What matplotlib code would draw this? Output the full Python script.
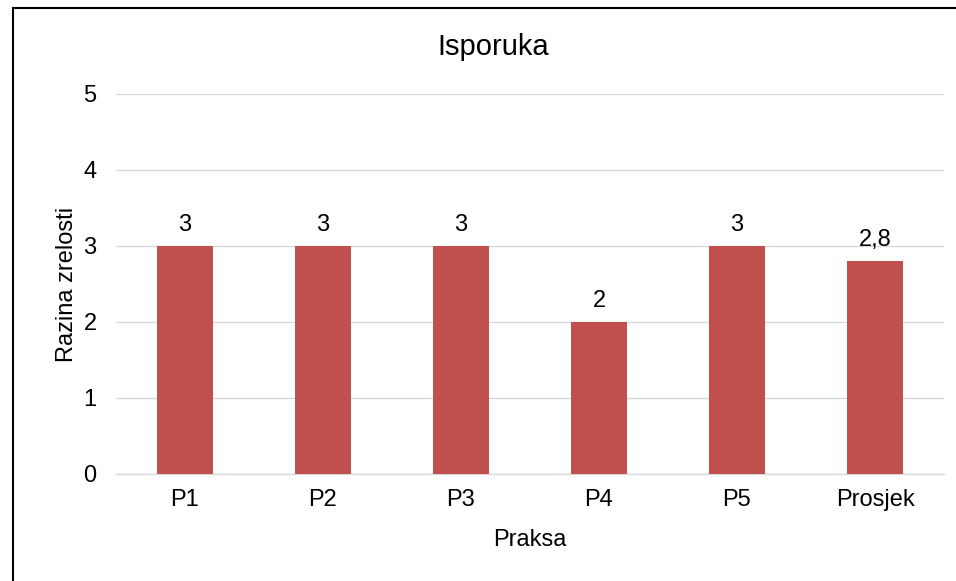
import matplotlib.pyplot as plt
from matplotlib.lines import Line2D

plt.rcParams['font.family'] = ['Liberation Sans', 'DejaVu Sans']

categories = ['P1', 'P2', 'P3', 'P4', 'P5', 'Prosjek']
values = [3, 3, 3, 2, 3, 2.8]
value_labels = ['3', '3', '3', '2', '3', '2,8']

W, H = 956, 581
fig = plt.figure(figsize=(W / 100, H / 100), dpi=100)
ax = fig.add_axes([116 / W, 1 - 474 / H, (944 - 116) / W, (474 - 94) / H])

x = range(len(categories))
bars = ax.bar(x, values, width=0.4, color='#C0504D', zorder=3)

for b, lab in zip(bars, value_labels):
    ax.annotate(lab, (b.get_x() + b.get_width() / 2, b.get_height()),
                xytext=(0, 7), textcoords='offset points',
                ha='center', va='bottom', fontsize=17)

ax.set_xlim(-0.5, len(categories) - 0.5)
ax.set_ylim(0, 5)
ax.set_xticks(list(x))
ax.set_xticklabels(categories, fontsize=17)
ax.set_yticks(range(6))
ax.tick_params(axis='y', labelsize=17, length=0, pad=14)
ax.tick_params(axis='x', length=0, pad=11)
ax.yaxis.grid(True, color='#D9D9D9', linewidth=1, zorder=0)
for s in ['top', 'right', 'left']:
    ax.spines[s].set_visible(False)
ax.spines['bottom'].set_color('#D9D9D9')
ax.spines['bottom'].set_linewidth(1)

ax.set_xlabel('Praksa', fontsize=17, labelpad=13)
ax.set_ylabel('Razina zrelosti', fontsize=17, labelpad=4)
fig.text(493 / W, 1 - 47 / H, 'Isporuka', fontsize=21, ha='center', va='center')

# outer border (top and left visible)
fig.add_artist(Line2D([13 / W, 13 / W], [0, 1 - 8 / H], color='black', linewidth=1.5, transform=fig.transFigure))
fig.add_artist(Line2D([13 / W, 1], [1 - 8 / H, 1 - 8 / H], color='black', linewidth=1.5, transform=fig.transFigure))

plt.savefig('out.png', dpi=100)
